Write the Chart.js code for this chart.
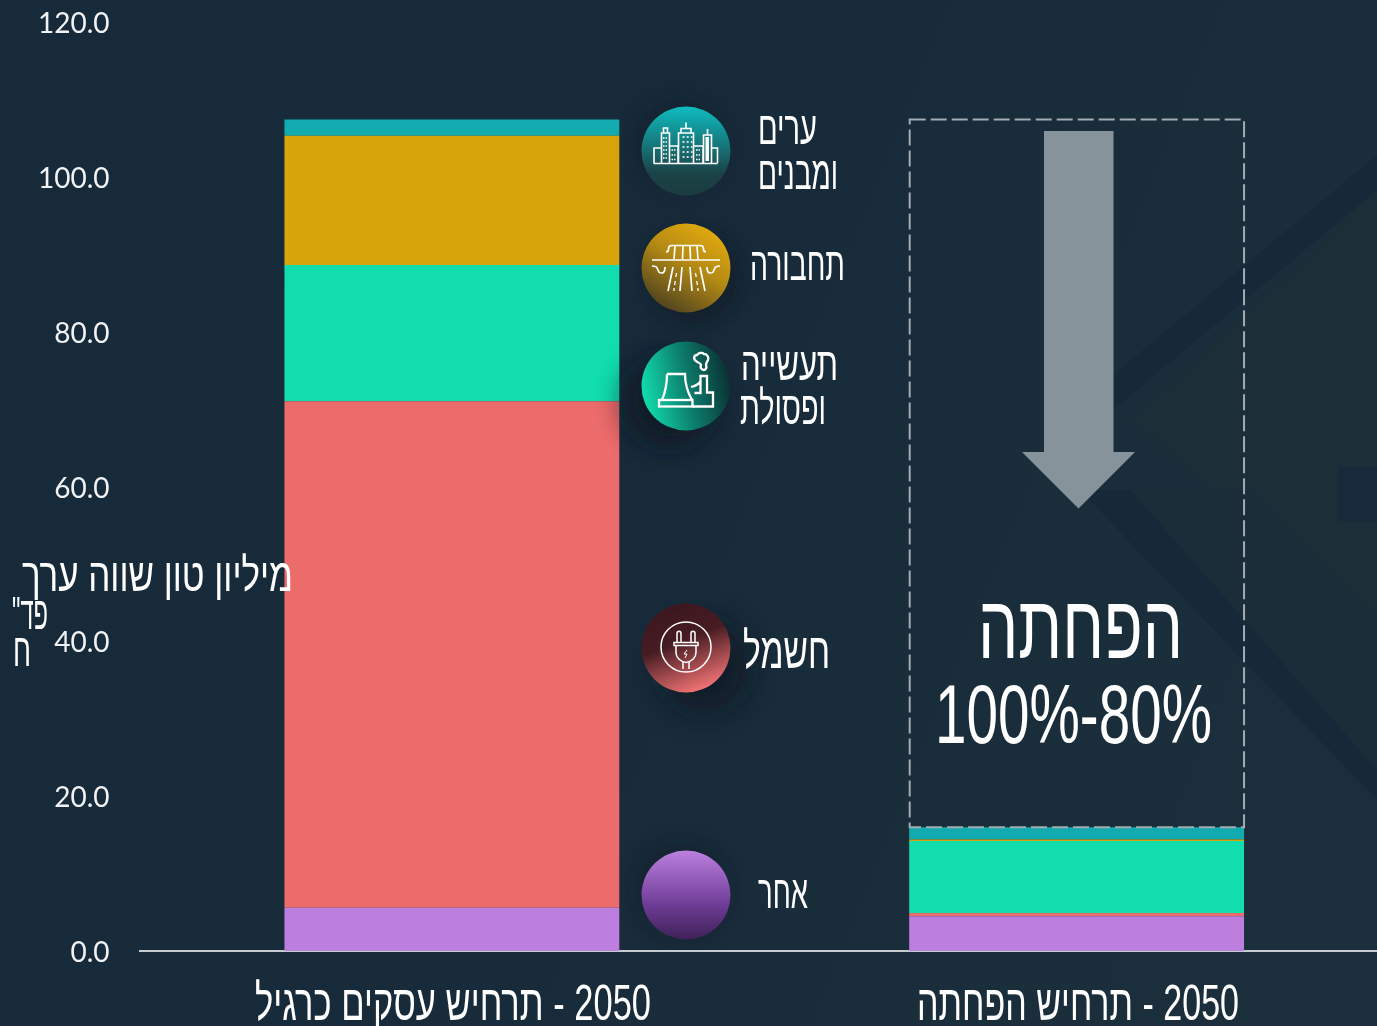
<!DOCTYPE html>
<html lang="he">
<head>
<meta charset="utf-8">
<title>תרחישי פליטות 2050</title>
<script src="https://cdn.jsdelivr.net/npm/chart.js@4"></script>
<style>
html,body{margin:0;padding:0;background:#172a3a;overflow:hidden;width:1377px;height:1026px}
#stage{position:absolute;left:0;top:0;width:1377px;height:1026px;overflow:hidden}
#stage svg{position:absolute;left:0;top:0}
#chart{position:absolute;left:0;top:0}
.t{position:absolute;white-space:nowrap;direction:rtl;color:#fff;font-family:"Liberation Sans",sans-serif;line-height:1;transform-origin:0 0}
</style>
</head>
<body>
<div id="stage">
<svg width="1377" height="1026" viewBox="0 0 1377 1026">
  <defs>
    <linearGradient id="bgg" x1="0" y1="0" x2="1" y2="0.3">
      <stop offset="0" stop-color="#172a3a"/><stop offset="0.6" stop-color="#182b3a"/><stop offset="1" stop-color="#1b2e3b"/>
    </linearGradient>
  </defs>
  <rect width="1377" height="1026" fill="url(#bgg)"/>
  <polygon points="1377,190 1377,640 1130,420" fill="#1c2e38"/>
  <polygon points="1130,490 1250,490 1377,620 1377,770" fill="#1b2d38"/>
  <polygon points="1377,155 1377,190 1115,408 1095,390" fill="#162939"/>
  <polygon points="1080,490 1130,490 1377,770 1377,800" fill="#162939"/>
  <rect x="1338" y="467" width="39" height="54" fill="#172a3b"/>
</svg>
<canvas id="chart" width="1389" height="1026"></canvas>
<svg width="1377" height="1026" viewBox="0 0 1377 1026" style="pointer-events:none">
  <defs>
    <linearGradient id="g1" x1="0" y1="0" x2="0" y2="1"><stop offset="0" stop-color="#0fbcc0"/><stop offset="0.75" stop-color="#1b4347"/><stop offset="1" stop-color="#1b3c40"/></linearGradient>
    <linearGradient id="g2" x1="0.8" y1="0" x2="0.2" y2="1"><stop offset="0" stop-color="#e6ad0e"/><stop offset="0.45" stop-color="#b48a14"/><stop offset="1" stop-color="#453c22"/></linearGradient>
    <linearGradient id="g3" x1="0" y1="0.6" x2="1" y2="0.4"><stop offset="0" stop-color="#12dfae"/><stop offset="0.5" stop-color="#0c7f6e"/><stop offset="1" stop-color="#0b2f32"/></linearGradient>
    <linearGradient id="g4" x1="0.2" y1="0" x2="0.6" y2="1"><stop offset="0" stop-color="#3a161e"/><stop offset="0.45" stop-color="#471c23"/><stop offset="1" stop-color="#f27474"/></linearGradient>
    <linearGradient id="g5" x1="0" y1="0" x2="0" y2="1"><stop offset="0" stop-color="#bc80de"/><stop offset="0.6" stop-color="#6f3d97"/><stop offset="1" stop-color="#3e2158"/></linearGradient>
    <filter id="s1" x="-60%" y="-60%" width="220%" height="220%"><feGaussianBlur stdDeviation="10"/></filter>
    <filter id="s2" x="-60%" y="-60%" width="220%" height="220%"><feGaussianBlur stdDeviation="14"/></filter>
  </defs>
  <g fill="#0a1620">
    <circle cx="680" cy="145" r="46" opacity=".35" filter="url(#s1)"/>
    <circle cx="694" cy="277" r="46" opacity=".55" filter="url(#s1)"/>
    <circle cx="670" cy="401" r="46" opacity=".8" filter="url(#s2)"/>
    <circle cx="704" cy="666" r="46" opacity=".7" filter="url(#s2)"/>
    <circle cx="682" cy="889" r="46" opacity=".4" filter="url(#s1)"/>
  </g>
  <circle cx="686" cy="151" r="44.5" fill="url(#g1)"/>
  <circle cx="686" cy="268" r="44.5" fill="url(#g2)"/>
  <circle cx="686" cy="386" r="44.5" fill="url(#g3)"/>
  <circle cx="686" cy="648" r="44.5" fill="url(#g4)"/>
  <circle cx="686" cy="895" r="44.5" fill="url(#g5)"/>
  <g fill="none" stroke="#fff" stroke-width="1.6" stroke-linejoin="miter">
    <path d="M653.5 163.500h64M654 163v-15h7M661.5 163v-30h8v30M663.500 133v-5h4v5M669.500 146h8.500v17M678.500 163v-30h15v30M681 133v-4.500h10v4.500M686 128.500v-6M693.500 146h9.500v17M703.500 163v-28h8v28M707.500 135v-6M711.500 148h6v15"/>
    <path d="M663 138h4M663 142h4M663 146h4M663 150h4M663 154h4M663 158h4M671.500 150h4M671.500 155h4M671.500 159.500h4M696 150h4M696 155h4M696 159.500h4" stroke-dasharray="1.600 1" />
    <path d="M682.500 137h10M682.500 142h10M682.500 147h10M682.500 152h10M682.500 157h10" stroke-dasharray="2 2.200"/>
    <rect x="705.500" y="137" width="3.500" height="24" fill="#fff" stroke="none"/>
  </g>
  <g fill="none" stroke="#fff" stroke-width="1.7">
    <path d="M652 260h68"/>
    <path d="M666 252c2 0 2.500-1 2.500-3s1-3.500 3-3.500h29c2 0 3 1.500 3 3.500s.5 3 2.500 3"/>
    <path d="M675 246l-1 13M683 246l-.5 13M690 246l.5 13M697 246l1 13"/>
    <path d="M652 266c4 0 5 1 6 4s2 3 4 3 3-1 3-6M720 266c-4 0-5 1-6 4s-2 3-4 3-3-1-3-6"/>
    <path d="M673 267l-5 24M682 267l-2 24M690 267l2 24M700 267l5 24"/>
    <path d="M676.500 273l-.7 4M675.300 281l-.7 4M674.200 288l-.4 3M695.500 273l.7 4M696.700 281l.7 4M697.800 288l.4 3" stroke-width="1.300"/>
  </g>
  <g fill="none" stroke="#fff" stroke-width="2.300" stroke-linejoin="miter">
    <path d="M667 374h18c0 10 3 19 7 26M667 374c0 10-2 19-5 26"/>
    <rect x="659" y="400" width="33.500" height="6.500"/>
    <path d="M692.500 406.500h20.500v-14h-6v-16.500h-6.500v17h-6M691 387c4-1 7-2 9-5"/>
    <path d="M696 361c-3-2-2-6 1-6 1-2 5-3 7-1 3 0 5 3 4 6-1 2-2 3-2 5 1 2 0 5-2 5-3 0-4-3-3-5 0-2-3-2-5-4z"/>
  </g>
  <g fill="none" stroke="#fff" stroke-width="1.500">
    <circle cx="686" cy="647" r="25"/>
    <path d="M677 643v-9.500c0-3 4-3 4 0v9.500M691 643v-9.500c0-3 4-3 4 0v9.500"/>
    <path d="M674 642.500h24v3h-24zM676 645.500v7c0 5 4 9 10 10 6-1 10-5 10-10v-7"/>
    <path d="M683 662v7M689 662v7"/>
    <path d="M687 650l-3 4h3l-2 4" stroke-width="1"/>
  </g>
</svg>
</div>
<script>
const categories = ['2050 - תרחיש עסקים כרגיל', '2050 - תרחיש הפחתה'];
const otherValues = [5.6, 4.5];
const electricityValues = [65.4, 0.4];
const industryValues = [17.6, 9.3];
const transportValues = [16.7, 0.2];
const citiesValues = [2.1, 1.6];
const yAxisTitleLines = ['מיליון טון שווה ערך', 'פד"', 'ח'];
const seriesNames = ['אחר', 'חשמל', 'תעשייה ופסולת', 'תחבורה', 'ערים ומבנים'];
const reductionTitle = 'הפחתה';
const reductionRange = '80%-100%';

const dashedBox = {
  id: 'dashedBox',
  afterDatasetsDraw(c) {
    const { ctx } = c;
    const top = c.getDatasetMeta(4).data[0];
    const low = c.getDatasetMeta(4).data[1];
    const l = low.x - low.width / 2, r = low.x + low.width / 2;
    ctx.save();
    ctx.strokeStyle = '#a3acb2';
    ctx.lineWidth = 2;
    ctx.setLineDash([16, 5]);
    ctx.strokeRect(l + .5, top.y, r - l - .5, low.y - top.y);
    ctx.restore();
    ctx.save();
    ctx.fillStyle = '#87939b';
    ctx.beginPath();
    ctx.moveTo(1044, 131); ctx.lineTo(1113.5, 131); ctx.lineTo(1113.5, 452);
    ctx.lineTo(1135, 452); ctx.lineTo(1078.5, 508.5); ctx.lineTo(1022, 452); ctx.lineTo(1044, 452);
    ctx.closePath(); ctx.fill();
    ctx.restore();
  }
};

const chart = new Chart(document.getElementById('chart'), {
  type: 'bar',
  data: {
    labels: categories,
    datasets: [
      { label: seriesNames[0], data: otherValues, backgroundColor: '#bc7fdd' },
      { label: seriesNames[1], data: electricityValues, backgroundColor: '#ec6b6b' },
      { label: seriesNames[2], data: industryValues, backgroundColor: '#11ddae' },
      { label: seriesNames[3], data: transportValues, backgroundColor: '#d9a50c' },
      { label: seriesNames[4], data: citiesValues, backgroundColor: '#12abb0' }
    ]
  },
  options: {
    responsive: false,
    animation: false,
    layout: { padding: { top: 22, right: 0, bottom: 0, left: 0 } },
    plugins: { legend: { display: false }, tooltip: { enabled: false }, title: { display: false } },
    datasets: { bar: { barPercentage: 1, categoryPercentage: 0.536 } },
    scales: {
      x: {
        stacked: true,
        afterFit(s) { s.height = 75; s.paddingLeft = 0; s.paddingRight = 0; },
        grid: { display: false, drawTicks: false },
        border: { display: true, color: '#c6cbcf', width: 2 },
        ticks: { display: false }
      },
      y: {
        stacked: true,
        min: 0, max: 120,
        afterFit(s) { s.width = 139.5; s.paddingTop = 0; s.paddingBottom = 0; },
        grid: { display: false, drawTicks: false },
        border: { display: false },
        ticks: {
          stepSize: 20,
          padding: 30,
          color: '#f0f2f4',
          font: { family: 'Lato', size: 28 },
          callback: v => Number(v).toFixed(1)
        }
      }
    }
  },
  plugins: [dashedBox]
});

const yS = chart.scales.y;
const origDrawLabels = yS.drawLabels.bind(yS);
yS.drawLabels = function (area) {
  const ctx = this.ctx;
  ctx.save();
  ctx.translate(0, 2);
  origDrawLabels(area);
  ctx.restore();
};
chart.draw();

const stage = document.getElementById('stage');
function put(text, x0, x1, top, size, weight) {
  const el = document.createElement('div');
  el.className = 't';
  el.textContent = text;
  el.style.fontSize = size + 'px';
  if (weight) el.style.fontWeight = weight;
  stage.appendChild(el);
  const w = el.getBoundingClientRect().width;
  el.style.left = x0 + 'px';
  el.style.top = top + 'px';
  el.style.transform = 'scaleX(' + ((x1 - x0) / w) + ')';
  return el;
}
const xS = chart.scales.x;
const legendLines = seriesNames[4].split(' ').concat(seriesNames[3], seriesNames[2].split(' '), seriesNames[1], seriesNames[0]);
put(legendLines[0], 758, 817, 105, 46);
put(legendLines[1], 758, 838, 150, 46);
put(legendLines[2], 750, 845, 241, 46);
put(legendLines[3], 741, 838, 341, 46);
put(legendLines[4], 740, 826, 385, 46);
put(legendLines[5], 743, 830, 626, 50);
put(legendLines[6], 758, 808, 869, 46);
put(reductionTitle, 978, 1183, 582, 90);
put(reductionRange, 935, 1212, 672, 84);
put(yAxisTitleLines[0], 22, 293, 552, 46);
put(yAxisTitleLines[1], 12, 48, 590, 46);
put(yAxisTitleLines[2], 13, 31, 627, 46);
const c0 = xS.getPixelForValue(0), c1 = xS.getPixelForValue(1);
put(categories[0], c0 - 197, c0 + 199, 978, 50);
put(categories[1], c1 - 160, c1 + 162, 978, 50);
</script>
</body>
</html>
